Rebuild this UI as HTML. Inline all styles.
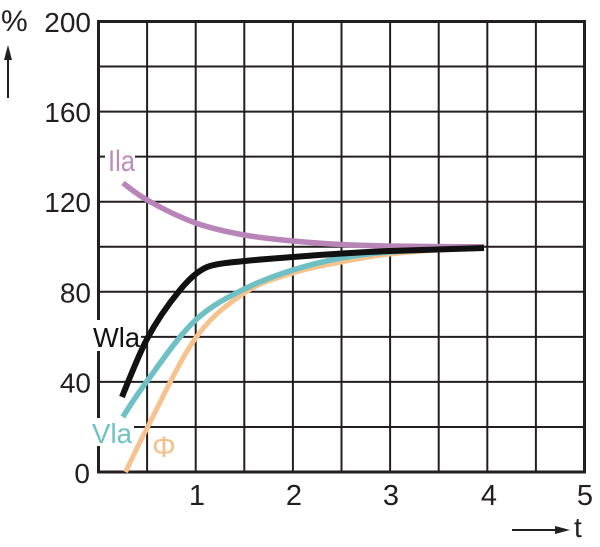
<!DOCTYPE html>
<html>
<head>
<meta charset="utf-8">
<style>
  html, body { margin:0; padding:0; background:#fff; }
  svg { display:block; }
  text { font-family: "Liberation Sans", Arial, sans-serif; }
</style>
</head>
<body>
<svg width="600" height="547" viewBox="0 0 600 547" xmlns="http://www.w3.org/2000/svg">
  <rect x="0" y="0" width="600" height="547" fill="#fff"/>

  <!-- grid -->
  <g stroke="#231f20" stroke-width="2" fill="none">
    <line x1="147.1" y1="21.5" x2="147.1" y2="472"/>
    <line x1="195.7" y1="21.5" x2="195.7" y2="472"/>
    <line x1="244.3" y1="21.5" x2="244.3" y2="472"/>
    <line x1="292.9" y1="21.5" x2="292.9" y2="472"/>
    <line x1="341.5" y1="21.5" x2="341.5" y2="472"/>
    <line x1="390.1" y1="21.5" x2="390.1" y2="472"/>
    <line x1="438.7" y1="21.5" x2="438.7" y2="472"/>
    <line x1="487.3" y1="21.5" x2="487.3" y2="472"/>
    <line x1="535.9" y1="21.5" x2="535.9" y2="472"/>
    <line x1="98.5" y1="66.55" x2="584.5" y2="66.55"/>
    <line x1="98.5" y1="111.6" x2="584.5" y2="111.6"/>
    <line x1="98.5" y1="156.65" x2="584.5" y2="156.65"/>
    <line x1="98.5" y1="201.7" x2="584.5" y2="201.7"/>
    <line x1="98.5" y1="246.75" x2="584.5" y2="246.75"/>
    <line x1="98.5" y1="291.8" x2="584.5" y2="291.8"/>
    <line x1="98.5" y1="336.85" x2="584.5" y2="336.85"/>
    <line x1="98.5" y1="381.9" x2="584.5" y2="381.9"/>
    <line x1="98.5" y1="426.95" x2="584.5" y2="426.95"/>
  </g>
  <rect x="98.5" y="21.5" width="486" height="450.5" fill="none" stroke="#231f20" stroke-width="3"/>

  <!-- label backgrounds -->
  <rect x="105" y="145" width="30" height="29" fill="#fff"/>
  <rect x="92" y="320" width="49" height="31" fill="#fff"/>
  <rect x="91" y="418" width="43" height="28" fill="#fff"/>

  <!-- curves -->
  <g fill="none" stroke-linejoin="round" stroke-linecap="butt">
    <!-- Phi (orange) -->
    <path stroke="#f6c38f" stroke-width="5"
      d="M125.5,472 C132.7,456.9 139.9,441.9 147.1,428
         C163.3,396.7 179.5,360.5 195.7,338
         C211.9,315.5 228.1,303.9 244.3,293
         C260.5,282.1 276.7,278.2 292.9,273
         C309.1,267.8 325.3,265.1 341.5,262
         C357.7,258.9 373.9,255.8 390.1,254
         C421.4,250.6 452.7,248.9 484,248"/>
    <!-- Vla (teal) -->
    <path stroke="#6fc0c5" stroke-width="5.5"
      d="M122.8,417 C130.9,404 139,392 147.1,381
         C163.3,359 179.5,334.9 195.7,320
         C211.9,305.1 228.1,297.1 244.3,289
         C260.5,280.9 276.7,275 292.9,270
         C309.1,265 325.3,260.9 341.5,258
         C357.7,255.1 373.9,253.2 390.1,252
         C421.4,249.7 452.7,248.6 484,248"/>
    <!-- Ila (purple) -->
    <path stroke="#b985b9" stroke-width="5.5"
      d="M123,183 C131,189.3 139.1,195.5 147.1,200
         C163.3,209.1 179.5,217.3 195.7,223
         C211.9,228.7 228.1,232.1 244.3,235
         C260.5,237.9 276.7,239.5 292.9,241
         C309.1,242.5 325.3,243.7 341.5,244.5
         C357.7,245.3 373.9,245.7 390.1,246
         C421.4,246.6 452.7,246.7 484,246.7"/>
    <!-- Wla (black) -->
    <path stroke="#111" stroke-width="6"
      d="M122,397 C130.33,376.2 138.67,354.8 147,339
         C158,318.1 169,303.4 180,290
         C185.67,283.1 191.33,277.3 197,273
         C201.33,269.75 205.67,267.3 210,266
         C221.67,262.5 233.33,262.3 245,261
         C261,259.2 277,258.2 293,257
         C309.33,255.7 325.67,254.5 342,253.5
         C358,252.5 374,251.6 390,251
         C421.33,249.75 452.67,248.8 484,248"/>
  </g>

  <!-- curve labels -->
  <text x="108" y="171" font-size="30" fill="#bd8cbd" textLength="27" lengthAdjust="spacingAndGlyphs">Ila</text>
  <text x="93" y="347" font-size="28" fill="#111" textLength="47" lengthAdjust="spacingAndGlyphs">Wla</text>
  <text x="92" y="443" font-size="28" fill="#6fc0c5" textLength="40" lengthAdjust="spacingAndGlyphs">Vla</text>
  <text x="152" y="457" font-size="30" fill="#f3c08a">Φ</text>

  <!-- y tick labels -->
  <g font-size="28" fill="#231f20" text-anchor="end">
    <text x="91" y="32">200</text>
    <text x="91" y="122">160</text>
    <text x="91" y="212">120</text>
    <text x="91" y="302.5">80</text>
    <text x="91" y="392.5">40</text>
    <text x="90" y="483">0</text>
  </g>

  <!-- x tick labels -->
  <g font-size="29" fill="#231f20" text-anchor="middle">
    <text x="197" y="505">1</text>
    <text x="294" y="505">2</text>
    <text x="391" y="505">3</text>
    <text x="489" y="505">4</text>
    <text x="585" y="505">5</text>
  </g>

  <!-- axis units -->
  <text x="1" y="31" font-size="30" fill="#231f20">%</text>
  <line x1="8" y1="98" x2="8" y2="58" stroke="#231f20" stroke-width="2"/>
  <polygon points="8,45 4,60 12,60" fill="#231f20"/>

  <line x1="512" y1="530" x2="558" y2="530" stroke="#231f20" stroke-width="2"/>
  <polygon points="570,530 555,526 555,534" fill="#231f20"/>
  <text x="574" y="537" font-size="28" fill="#231f20">t</text>
</svg>
</body>
</html>
